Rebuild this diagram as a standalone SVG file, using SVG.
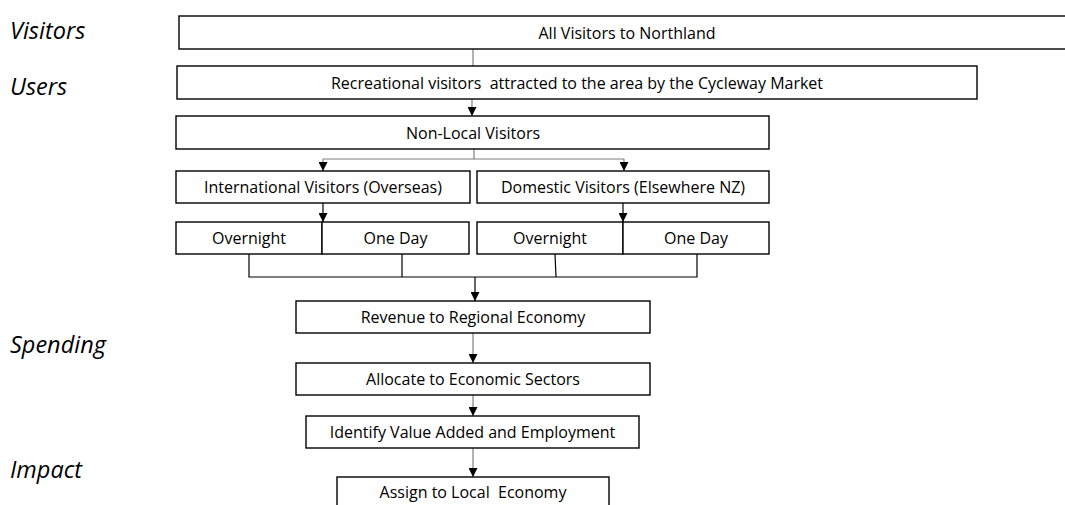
<svg xmlns="http://www.w3.org/2000/svg" width="1065" height="505" viewBox="0 0 1065 505">
<style>
  .box { fill: #ffffff; stroke: #000000; stroke-width: 1.4; }
  .t { font-family: "Open Sans", "Liberation Sans", sans-serif; font-size: 16px; fill: #000000; text-anchor: middle; white-space: pre; }
  .lbl { font-family: "Open Sans", "Liberation Sans", sans-serif; font-size: 23.5px; font-style: italic; fill: #000000; }
  .c { fill: none; stroke: #7f7f7f; stroke-width: 1.2; }
  .cb { fill: none; stroke: #000000; stroke-width: 1.2; }
</style>
<defs>
  <marker id="ah" markerUnits="userSpaceOnUse" markerWidth="9" markerHeight="9" refX="9" refY="4.5" orient="auto" viewBox="0 0 9 9">
    <path d="M0,0 L9,4.5 L0,9 z" fill="#000000"/>
  </marker>
</defs>
<rect width="1065" height="505" fill="#ffffff"/>

<g id="labels">
  <text class="lbl" x="10" y="38.5">Visitors</text>
  <text class="lbl" x="10" y="95">Users</text>
  <text class="lbl" x="10" y="353">Spending</text>
  <text class="lbl" x="10" y="478">Impact</text>
</g>

<g id="connectors">
  <line class="c" x1="473" y1="49" x2="473" y2="66"/>
  <line class="c" x1="472" y1="99" x2="472" y2="116" marker-end="url(#ah)"/>
  <line class="c" x1="474" y1="149" x2="474" y2="159"/>
  <line class="c" x1="323" y1="159" x2="624" y2="159"/>
  <line class="c" x1="323" y1="159" x2="323" y2="171" marker-end="url(#ah)"/>
  <line class="c" x1="624" y1="159" x2="624" y2="171" marker-end="url(#ah)"/>
  <line class="cb" x1="323" y1="203" x2="323" y2="222" marker-end="url(#ah)"/>
  <line class="cb" x1="623" y1="203" x2="623" y2="222" marker-end="url(#ah)"/>
  <path class="cb" d="M249,254 V277 H697 V254 M402,254 V277 M555,254 L556,277"/>
  <line class="cb" x1="475" y1="277" x2="475" y2="301" marker-end="url(#ah)"/>
  <line class="c" x1="473" y1="333" x2="473" y2="363" marker-end="url(#ah)"/>
  <line class="c" x1="473" y1="395" x2="473" y2="416" marker-end="url(#ah)"/>
  <line class="c" x1="473" y1="448" x2="473" y2="477" marker-end="url(#ah)"/>
</g>

<g id="n-all">
  <rect class="box" x="179" y="16" width="900" height="33"/>
  <text class="t" x="627" y="38.5">All Visitors to Northland</text>
</g>
<g id="n-recreational">
  <rect class="box" x="177" y="66" width="800" height="33"/>
  <text class="t" x="577" y="88.5">Recreational visitors  attracted to the area by the Cycleway Market</text>
</g>
<g id="n-nonlocal">
  <rect class="box" x="176" y="116" width="593" height="33"/>
  <text class="t" x="473" y="138.5">Non-Local Visitors</text>
</g>
<g id="n-international">
  <rect class="box" x="176" y="171" width="294" height="32"/>
  <text class="t" x="323" y="193">International Visitors (Overseas)</text>
</g>
<g id="n-domestic">
  <rect class="box" x="477" y="171" width="292" height="32"/>
  <text class="t" x="623" y="193">Domestic Visitors (Elsewhere NZ)</text>
</g>
<g id="n-int-overnight">
  <rect class="box" x="176" y="222" width="146" height="32"/>
  <text class="t" x="249" y="244">Overnight</text>
</g>
<g id="n-int-oneday">
  <rect class="box" x="322" y="222" width="147" height="32"/>
  <text class="t" x="395.5" y="244">One Day</text>
</g>
<g id="n-dom-overnight">
  <rect class="box" x="477" y="222" width="146" height="32"/>
  <text class="t" x="550" y="244">Overnight</text>
</g>
<g id="n-dom-oneday">
  <rect class="box" x="623" y="222" width="146" height="32"/>
  <text class="t" x="696" y="244">One Day</text>
</g>
<g id="n-revenue">
  <rect class="box" x="296" y="301" width="354" height="32"/>
  <text class="t" x="473" y="323">Revenue to Regional Economy</text>
</g>
<g id="n-allocate">
  <rect class="box" x="296" y="363" width="354" height="32"/>
  <text class="t" x="473" y="385">Allocate to Economic Sectors</text>
</g>
<g id="n-identify">
  <rect class="box" x="306" y="416" width="333" height="32"/>
  <text class="t" x="472.5" y="438">Identify Value Added and Employment</text>
</g>
<g id="n-assign">
  <rect class="box" x="337" y="477" width="272" height="40"/>
  <text class="t" x="473" y="498">Assign to Local  Economy</text>
</g>
</svg>
